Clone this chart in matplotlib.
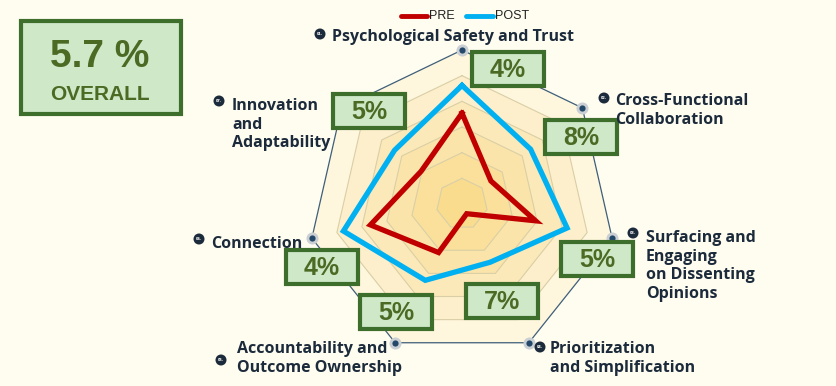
import numpy as np
import matplotlib
matplotlib.use("Agg")
import matplotlib.pyplot as plt
from matplotlib.patches import Rectangle, Circle

# ── Data ──────────────────────────────────────────────────────────────────────
categories = ["Psychological Safety and Trust",
              "Cross-Functional\nCollaboration",
              "Surfacing and\nEngaging\non Dissenting\nOpinions",
              "Prioritization\nand Simplification",
              "Accountability and\nOutcome Ownership",
              "Connection",
              "Innovation\nand\nAdaptability"]
badges   = ["01.", "02.", "03.", "04.", "05.", "06.", "07."]
pre      = [59, 24, 49, 7, 35, 61, 34]
post     = [77, 57, 70, 42, 55, 79, 56]
gains    = ["4%", "8%", "5%", "7%", "5%", "4%", "5%"]
overall  = "5.7 %"
r_max    = 100
n_levels = 6

BG      = "#fffcf0"
NAVY    = "#1c2b3b"
RED     = "#c00000"
BLUE    = "#00b0f0"
G_EDGE  = "#3d6e2c"
G_FILL  = "#cfe8c8"
G_TEXT  = "#4b6b25"

W, H = 837, 386
fig = plt.figure(figsize=(W / 100, H / 100), dpi=100, facecolor=BG)

# ── Radar (polar) ────────────────────────────────────────────────────────────
cx, cy, R = 462, 204, 154
ax = fig.add_axes([(cx - R) / W, 1 - (cy + R) / H, 2 * R / W, 2 * R / H],
                  projection="polar")
ax.set_theta_offset(np.pi / 2)
ax.set_theta_direction(-1)
ax.set_ylim(0, r_max)
ax.set_xticks([]); ax.set_yticks([])
ax.grid(False)
ax.spines["polar"].set_visible(False)
ax.patch.set_alpha(0)

n = len(categories)
ang = np.arange(n) * 2 * np.pi / n
ang_c = np.append(ang, ang[0])

ring_cols = ["#fef6dd", "#fdefcb", "#fce9b9", "#fbe4a9", "#fae09b", "#f9dc8e"]
for k in range(n_levels, 0, -1):
    rr = np.full(n + 1, r_max * k / n_levels)
    ax.fill(ang_c, rr, color=ring_cols[n_levels - k], lw=0, zorder=1)
    if k < n_levels:
        ax.plot(ang_c, rr, color="#d9cfa6", lw=0.8, zorder=2)
ax.plot(ang_c, np.full(n + 1, r_max), color="#3e5f7a", lw=0.9, zorder=2)
ax.scatter(ang, np.full(n, r_max), s=75, color="#c9cfd2", zorder=3, clip_on=False, lw=0)
ax.scatter(ang, np.full(n, r_max), s=20, color="#24486a", zorder=4, clip_on=False, lw=0)

ax.plot(ang_c, pre + pre[:1], color=RED, lw=3.8, zorder=5, solid_joinstyle="miter")
ax.plot(ang_c, post + post[:1], color=BLUE, lw=3.8, zorder=6, solid_joinstyle="miter")

# ── Overlay in pixel coordinates ─────────────────────────────────────────────
ov = fig.add_axes([0, 0, 1, 1], zorder=10)
ov.set_xlim(0, W); ov.set_ylim(H, 0)
ov.axis("off")
ov.patch.set_alpha(0)

# overall box
ov.add_patch(Rectangle((21, 21), 160, 93, fc=G_FILL, ec=G_EDGE, lw=3))
ov.text(100, 57, overall, ha="center", va="center", fontsize=28, fontweight="bold",
        color=G_TEXT, family="Liberation Sans")
ov.text(100, 94, "OVERALL", ha="center", va="center", fontsize=15, fontweight="bold",
        color=G_TEXT, family="Liberation Sans")

# legend
ov.plot([401, 427], [16, 16], color=RED, lw=3.5, solid_capstyle="round")
ov.text(429, 16, "PRE", ha="left", va="center", fontsize=9, color="#222222",
        family="Liberation Sans")
ov.plot([466, 493], [16, 16], color=BLUE, lw=3.5, solid_capstyle="round")
ov.text(495, 16, "POST", ha="left", va="center", fontsize=9, color="#222222",
        family="Liberation Sans")

# gain boxes (centre positions)
box_pos = [(508, 69), (581, 137), (597, 259), (502, 301), (396, 312), (322, 267), (369, 111)]
for (bx, by), g in zip(box_pos, gains):
    ov.add_patch(Rectangle((bx - 36, by - 17), 72, 34, fc=G_FILL, ec=G_EDGE, lw=3))
    ov.text(bx, by + 1, g, ha="center", va="center", fontsize=18, fontweight="bold",
            color=G_TEXT, family="Liberation Sans")

# category labels: badge centre, text left x, first line centre y
lab_pos = [((320, 34), 332, 36), ((604, 98), 615, 100), ((633, 233), 646, 237),
           ((540, 347), 550, 348), ((221, 360), 237, 348), ((199, 239), 211, 243),
           ((219, 101), 232, 105)]
for (bpos, tx, ty), lab, b in zip(lab_pos, categories, badges):
    ov.add_patch(Circle(bpos, 5.5, fc=NAVY, ec="none"))
    ov.text(bpos[0], bpos[1], b, ha="center", va="center", fontsize=2.5,
            color="white", fontweight="bold")
    ov.text(tx, ty - 7, lab, ha="left", va="top", fontsize=11.5, fontweight="bold",
            color=NAVY, family="Open Sans", linespacing=1.22)

fig.savefig("out.png", dpi=100, facecolor=BG)
